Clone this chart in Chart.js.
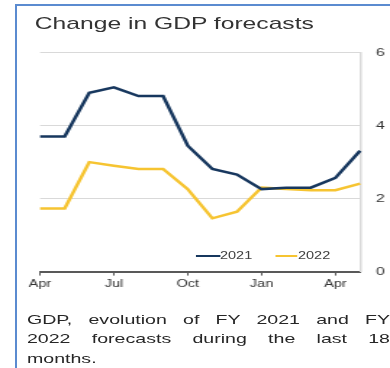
<!DOCTYPE html>
<html lang="en">

<head>
  <meta charset="UTF-8" />
  <title>Change in GDP forecasts</title>
  <script src="https://cdn.jsdelivr.net/npm/chart.js"></script>
  <style>
    html,
    body {
      margin: 0;
      padding: 0;
      width: 390px;
      height: 368px;
      overflow: hidden;
      background: #fff;
      font-family: 'Liberation Sans', Arial, sans-serif;
    }

    #frame {
      position: absolute;
      left: 15px;
      top: 4px;
      width: 400px;
      height: 400px;
      border-left: 2px solid #5b8bd0;
      border-top: 2px solid #5b8bd0;
    }

    /* the source picture is stretched sideways, so the whole panel is too */
    #wrap {
      position: absolute;
      left: 0;
      top: 0;
      width: 269px;
      height: 368px;
      transform: scaleX(1.45);
      transform-origin: 0 0;
    }

    #title {
      position: absolute;
      left: 24px;
      top: 14.8px;
      font-size: 17px;
      line-height: 17px;
      color: #333;
      white-space: nowrap;
    }

    #gdpChart {
      position: absolute;
      left: 0;
      top: 35px;
    }

    .key-line {
      position: absolute;
      height: 2px;
      top: 254.7px;
    }

    .key-text {
      position: absolute;
      top: 250.8px;
      font-size: 10px;
      line-height: 10px;
      color: #404040;
    }

    #caption {
      position: absolute;
      left: 18.6px;
      top: 309.6px;
      width: 250.4px;
      font-size: 13.5px;
      line-height: 19.5px;
      color: #262626;
    }

    #caption .full {
      text-align: justify;
      text-align-last: justify;
      white-space: nowrap;
    }
  </style>
</head>

<body>
  <div id="frame"></div>
  <div id="wrap">
    <div id="title">Change in GDP forecasts</div>
    <canvas id="gdpChart" width="269" height="275"></canvas>

    <div class="key-line" style="left:134.5px; width:17.2px; background:#17375e"></div>
    <div class="key-text" style="left:151.7px">2021</div>
    <div class="key-line" style="left:189.7px; width:15.8px; background:#f6c431"></div>
    <div class="key-text" style="left:205.5px">2022</div>

    <div id="caption">
      <div class="full" style="white-space:normal">GDP, evolution of FY 2021 and FY</div>
      <div class="full" style="white-space:normal">2022 forecasts during the last 18</div>
      <div>months.</div>
    </div>
  </div>

  <script>
    // monthly readings, Apr of one year to May of the next
    const months = ['Apr', 'May', 'Jun', 'Jul', 'Aug', 'Sep', 'Oct', 'Nov', 'Dec', 'Jan', 'Feb', 'Mar', 'Apr', 'May'];
    const fy2021 = [3.70, 3.70, 4.90, 5.05, 4.81, 4.81, 3.45, 2.81, 2.66, 2.26, 2.30, 2.30, 2.57, 3.31];
    const fy2022 = [1.73, 1.73, 3.00, 2.90, 2.81, 2.81, 2.26, 1.46, 1.64, 2.30, 2.26, 2.23, 2.23, 2.41];
    const yTicks = [0, 2, 4, 6];

    Chart.defaults.font.family = "'Liberation Sans', Arial, sans-serif";
    Chart.defaults.color = '#404040';

    const ctx = document.getElementById('gdpChart').getContext('2d');

    const gdpChart = new Chart(ctx, {
      type: 'line',
      data: {
        labels: months,
        datasets: [{
          label: '2021',
          data: fy2021,
          borderColor: '#17375e',
          borderWidth: 2.5,
          pointRadius: 0,
          tension: 0
        }, {
          label: '2022',
          data: fy2022,
          borderColor: '#f6c431',
          borderWidth: 2.5,
          pointRadius: 0,
          tension: 0
        }]
      },
      options: {
        responsive: false,
        animation: false,
        devicePixelRatio: 1,
        layout: {
          padding: { left: 27.6, top: 10.7, right: 0, bottom: 0 }
        },
        scales: {
          x: {
            offset: false,
            afterFit: (scale) => { scale.height = 38.4; },
            ticks: {
              autoSkip: false,
              maxRotation: 0,
              padding: 3,
              font: { size: 10 },
              color: '#333',
              callback: (v, i) => (i % 3 === 0 ? months[i] : '')
            },
            grid: {
              drawOnChartArea: false,
              drawTicks: true,
              tickLength: 4,
              color: (c) => (c.index % 3 === 0 ? '#555' : 'rgba(0,0,0,0)')
            },
            border: { display: true, color: '#595959', width: 2 }
          },
          y: {
            position: 'right',
            min: yTicks[0],
            max: yTicks[yTicks.length - 1],
            afterFit: (scale) => { scale.width = 20.7; },
            afterBuildTicks: (scale) => { scale.ticks = yTicks.map(v => ({ value: v })); },
            ticks: {
              padding: 11,
              font: { size: 11 },
              color: '#333'
            },
            grid: {
              drawTicks: false,
              color: (c) => (c.tick && c.tick.value === 0 ? 'rgba(0,0,0,0)' : '#d9d9d9')
            },
            border: { display: true, color: '#d9d9d9', width: 1.5 }
          }
        },
        plugins: {
          legend: { display: false },
          tooltip: { enabled: false }
        }
      }
    });
  </script>
</body>

</html>
